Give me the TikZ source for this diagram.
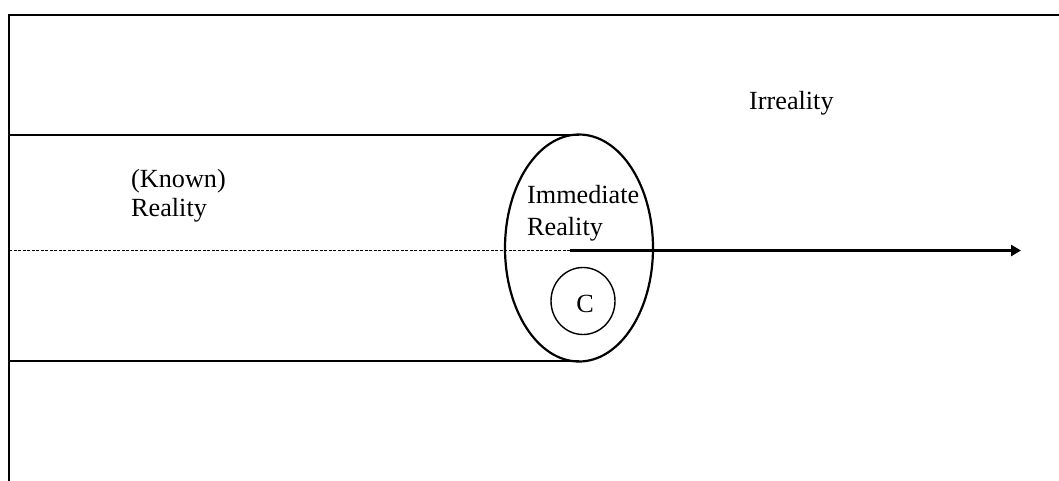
\documentclass[tikz,border=0pt]{standalone}
\usepackage{fontspec}
\setmainfont{Liberation Serif}
\usetikzlibrary{arrows.meta,shapes.geometric}
\begin{document}
\begin{tikzpicture}[x=1pt,y=-1pt,
  lbl/.style={anchor=base west,inner sep=0pt,font=\fontsize{26.2}{32}\selectfont},
  thick line/.style={line width=2.4pt}]
\useasboundingbox (0,0) rectangle (1059,480);
% frame
\coordinate (fbl) at (9,481);
\coordinate (ftl) at (9,15);
\coordinate (ftr) at (1060,15);
\draw[thick line] (fbl) -- (ftl) -- (ftr);
% ellipse (immediate reality)
\node[draw,ellipse,line width=2.2pt,minimum width=148pt,minimum height=227pt,inner sep=0pt] (ell) at (579,248) {};
% cylinder lines
\coordinate (tl) at (9,135);
\coordinate (tr) at (579,135);
\coordinate (bl) at (9,361);
\coordinate (br) at (579,361);
\draw[thick line] (tl) -- (tr);
\draw[thick line] (bl) -- (br);
% axis
\coordinate (al) at (9,250.5);
\coordinate (am) at (570,250.5);
\coordinate (ar) at (1021,250.5);
\draw[line width=0.9pt,dash pattern=on 3pt off 1.5pt] (al) -- (am);
\draw[line width=2.6pt,-{Triangle[length=10pt,width=11pt]}] (am) -- (ar);
% consciousness circle
\node[draw,ellipse,line width=1.4pt,minimum width=64pt,minimum height=67pt,inner sep=0pt] (c) at (583,301) {};
\node[lbl,anchor=base] (ctext) at (585,312) {C};
% labels
\node[lbl] (known1) at (131,187) {(Known)};
\node[lbl] (known2) at (131,216) {Reality};
\node[lbl] (imm1) at (527,203) {Immediate};
\node[lbl] (imm2) at (527,235) {Reality};
\node[lbl] (irr) at (749,109) {Irreality};
\end{tikzpicture}
\end{document}
